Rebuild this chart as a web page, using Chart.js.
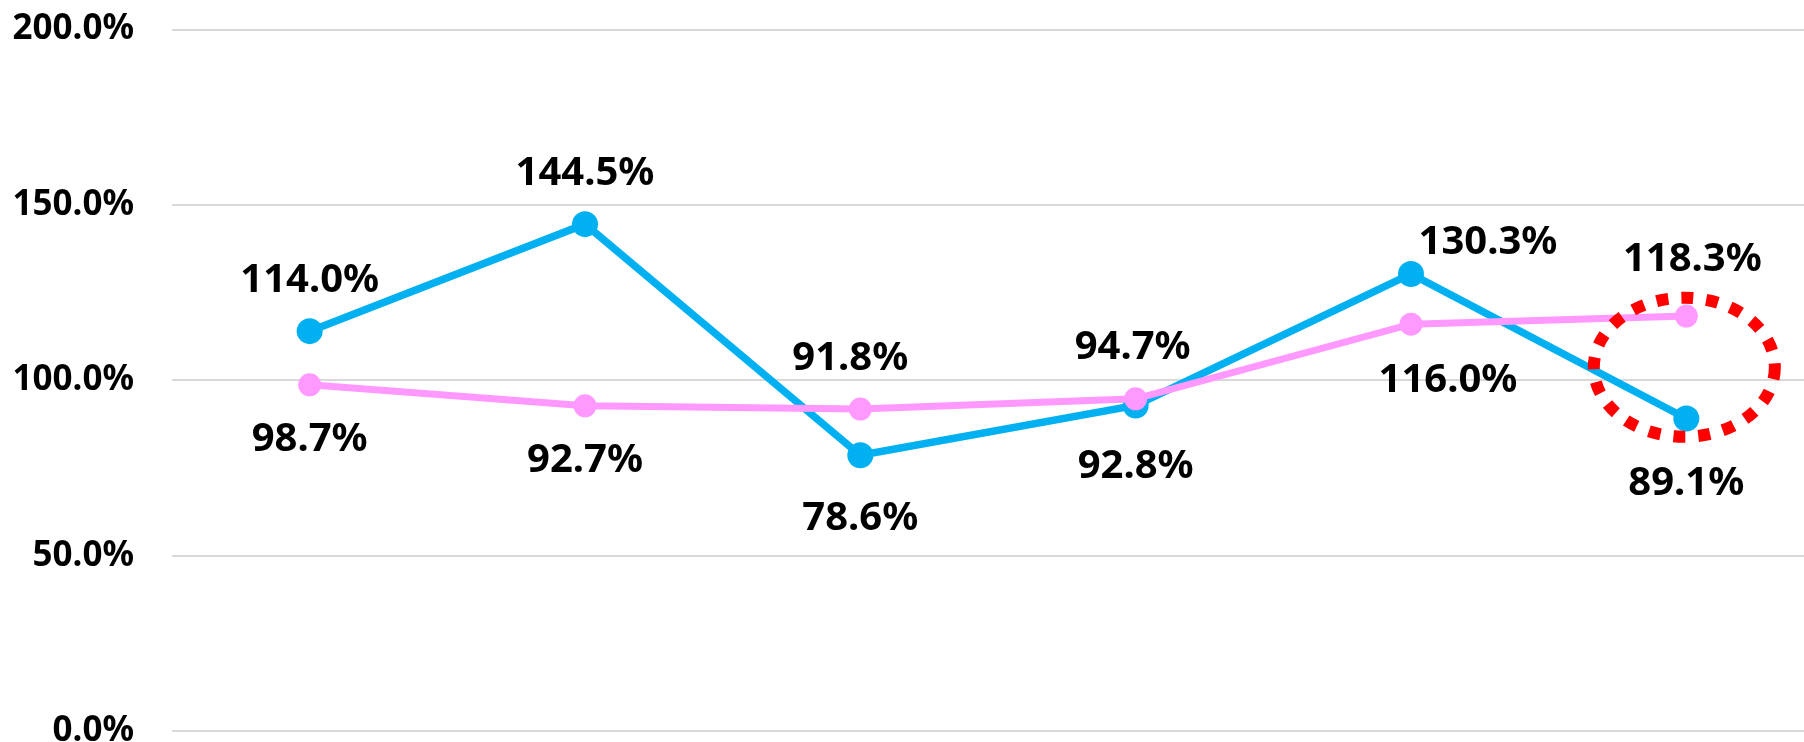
<!DOCTYPE html>
<html>
<head>
<meta charset="utf-8">
<script src="https://cdn.jsdelivr.net/npm/chart.js@4/dist/chart.umd.min.js"></script>
<style>
  html, body { margin: 0; padding: 0; background: #fff; overflow: hidden; }
  #wrap { width: 1804px; height: 742px; overflow: hidden; position: relative; }
  canvas { display: block; }
</style>
</head>
<body>
<div id="wrap"><canvas id="c" width="1837" height="800"></canvas></div>
<script>
// ---- data ----
const categories = ['1', '2', '3', '4', '5', '6'];
const seriesBlue = [114.0, 144.5, 78.6, 92.8, 130.3, 89.1];
const seriesPink = [98.7, 92.7, 91.8, 94.7, 116.0, 118.3];
const yTicks = [0, 50, 100, 150, 200];

// ---- label placement (layout only) ----
const blueLabelOffsets = [[0, -51], [0, -51], [0, 63], [0, 61], [77, -31], [0, 65]];
const pinkLabelOffsets = [[0, 55], [0, 55], [-10, -50], [-3, -51], [37, 56], [6, -56]];

const FONT = '"Noto Sans", "Open Sans", sans-serif';

const labelsPlugin = {
  id: 'valueLabels',
  afterDatasetsDraw(chart) {
    const ctx = chart.ctx;
    const xs = chart.scales.x, ys = chart.scales.y;
    // highlight ellipse around the last category
    const last = categories.length - 1;
    const cx = xs.getPixelForValue(last) - 2;
    const cy = (ys.getPixelForValue(seriesBlue[last]) + ys.getPixelForValue(seriesPink[last])) / 2;
    ctx.save();
    ctx.beginPath();
    ctx.ellipse(cx, cy, 90.5, 69.5, 0, 0, Math.PI * 2);
    ctx.strokeStyle = '#FF0000';
    ctx.lineWidth = 12;
    ctx.setLineDash([12, 13]);
    ctx.stroke();
    ctx.restore();

    ctx.save();
    ctx.font = 'bold 40px ' + FONT;
    ctx.fillStyle = '#000';
    ctx.textAlign = 'center';
    ctx.textBaseline = 'middle';
    const draw = (vals, offs) => {
      vals.forEach((v, i) => {
        const x = xs.getPixelForValue(i) + offs[i][0];
        const y = ys.getPixelForValue(v) + offs[i][1];
        ctx.fillText(v.toFixed(1) + '%', x, y);
      });
    };
    draw(seriesBlue, blueLabelOffsets);
    draw(seriesPink, pinkLabelOffsets);
    ctx.restore();
  }
};

new Chart(document.getElementById('c'), {
  type: 'line',
  data: {
    labels: categories,
    datasets: [
      {
        label: 'B',
        data: seriesPink,
        borderColor: '#FF99FF',
        backgroundColor: '#FF99FF',
        borderWidth: 7,
        pointRadius: 11.5,
        pointHoverRadius: 11.5,
        pointBorderWidth: 0,
        tension: 0,
        fill: false
      },
      {
        label: 'A',
        data: seriesBlue,
        borderColor: '#00B0F0',
        backgroundColor: '#00B0F0',
        borderWidth: 7.5,
        pointRadius: 13,
        pointHoverRadius: 13,
        pointBorderWidth: 0,
        tension: 0,
        fill: false
      }
    ]
  },
  options: {
    responsive: false,
    animation: false,
    layout: { padding: { left: 0, right: 8, top: 29.5, bottom: 69 } },
    plugins: { legend: { display: false }, tooltip: { enabled: false } },
    scales: {
      x: {
        display: false,
        offset: true
      },
      y: {
        min: 0,
        max: 200,
        afterBuildTicks(scale) { scale.ticks = yTicks.map(v => ({ value: v })); },
        afterFit(scale) { scale.width = 172; },
        border: { display: false },
        grid: { color: '#D9D9D9', lineWidth: 2, drawTicks: true, tickLength: 38, tickColor: 'rgba(0,0,0,0)' },
        ticks: {
          padding: 0,
          color: '#000',
          font: { family: FONT, size: 35, weight: 'bold' },
          callback: v => Number(v).toFixed(1) + '%'
        }
      }
    }
  },
  plugins: [labelsPlugin]
});
</script>
</body>
</html>
